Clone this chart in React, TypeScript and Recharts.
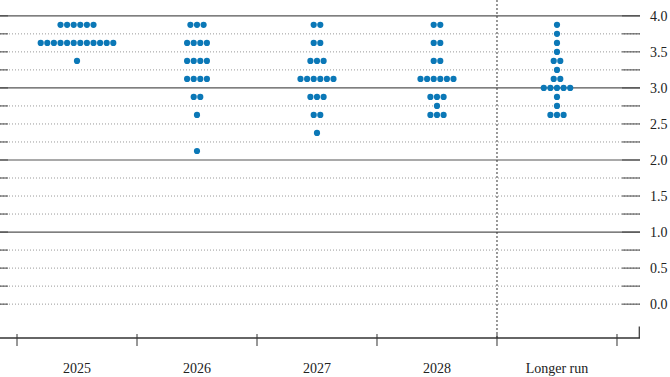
import { ScatterChart, Scatter, XAxis, YAxis, ReferenceLine } from 'recharts'

// Policy rate levels (midpoints) and number of participants at each level
const LEVELS = [3.875, 3.75, 3.625, 3.5, 3.375, 3.25, 3.125, 3.0, 2.875, 2.75, 2.625, 2.5, 2.375, 2.25, 2.125]

const CATEGORIES = ['2025', '2026', '2027', '2028', 'Longer run']

const COUNTS_2025 = [6, 0, 12, 0, 1, 0, 0, 0, 0, 0, 0, 0, 0, 0, 0]
const COUNTS_2026 = [3, 0, 4, 0, 4, 0, 4, 0, 2, 0, 1, 0, 0, 0, 1]
const COUNTS_2027 = [2, 0, 2, 0, 3, 0, 6, 0, 3, 0, 2, 0, 1, 0, 0]
const COUNTS_2028 = [2, 0, 2, 0, 2, 0, 6, 0, 3, 1, 3, 0, 0, 0, 0]
const COUNTS_LONGER = [1, 1, 1, 1, 2, 1, 2, 5, 1, 1, 3, 0, 0, 0, 0]

const ALL_COUNTS = [COUNTS_2025, COUNTS_2026, COUNTS_2027, COUNTS_2028, COUNTS_LONGER]

// gridlines every quarter point, labels every half point
const Y_TICKS = [0, 0.25, 0.5, 0.75, 1, 1.25, 1.5, 1.75, 2, 2.25, 2.5, 2.75, 3, 3.25, 3.5, 3.75, 4]

const X_MIN = -0.6417
const X_MAX = 4.6917
const Y_MIN = -0.47
const Y_MAX = 4.22
const DOT_STEP = 0.055 // horizontal spacing between dots on one row, in category units
const PLOT_W = 640
const DOT_COLOR = '#0b78b7'
const FONT = '"Liberation Serif", "DejaVu Serif", serif'

const dots = ALL_COUNTS.flatMap((counts, ci) =>
  counts.flatMap((n, li) =>
    Array.from({ length: n }, (_, k) => ({
      x: ci + (k - (n - 1) / 2) * DOT_STEP,
      y: LEVELS[li],
    })),
  ),
)

const X_TICKS = [-0.5, 0, 0.5, 1, 1.5, 2, 2.5, 3, 3.5, 4, 4.5]

function XTick(props: any) {
  const { x, y, payload } = props
  const v = payload.value
  if (Number.isInteger(v)) {
    return (
      <text x={x} y={y + 27} textAnchor="middle" style={{ fontFamily: FONT, fontSize: 14 }} fill="#222">
        {CATEGORIES[v]}
      </text>
    )
  }
  return <line x1={x} x2={x} y1={y - 12} y2={y} stroke="#333" strokeWidth={1} />
}

function YTick(props: any) {
  const { x, y, payload } = props
  const v = payload.value
  const labelled = Math.abs(v * 2 - Math.round(v * 2)) < 1e-6
  return (
    <g>
      <line x1={x - 18} x2={x} y1={y} y2={y} stroke="#444" strokeWidth={1} />
      <line x1={x - PLOT_W} x2={x - PLOT_W + 8} y1={y} y2={y} stroke="#444" strokeWidth={1} />
      {labelled && (
        <text x={x + 10} y={y} dy="0.35em" style={{ fontFamily: FONT, fontSize: 14 }} fill="#222">
          {v.toFixed(1)}
        </text>
      )}
    </g>
  )
}

const Dot = (props: any) => <circle cx={props.cx} cy={props.cy} r={3.1} fill={DOT_COLOR} />

export default function App() {
  return (
    <div style={{ position: 'absolute', left: 0, top: 0, background: '#fff' }}>
      <ScatterChart width={670} height={377} margin={{ top: 0, right: 0, bottom: 0, left: 0 }}>
        <XAxis
          type="number"
          dataKey="x"
          domain={[X_MIN, X_MAX]}
          ticks={X_TICKS}
          interval={0}
          allowDataOverflow
          height={39}
          tickLine={false}
          axisLine={{ stroke: '#333', strokeWidth: 1.4 }}
          tick={<XTick />}
        />
        <YAxis
          type="number"
          dataKey="y"
          orientation="right"
          domain={[Y_MIN, Y_MAX]}
          ticks={Y_TICKS}
          interval={0}
          allowDataOverflow
          width={30}
          tickSize={0}
          tickMargin={0}
          axisLine={false}
          tickLine={false}
          tick={<YTick />}
        />
        {Y_TICKS.map((v) =>
          Number.isInteger(v) && v > 0 ? (
            <ReferenceLine key={v} y={v} stroke="#555" strokeWidth={1.2} />
          ) : (
            <ReferenceLine key={v} y={v} stroke="#999" strokeWidth={1} strokeDasharray="1 2" />
          ),
        )}
        <ReferenceLine x={3.5} stroke="#333" strokeDasharray="2 2" strokeWidth={1} />
        <ReferenceLine
          segment={[{ x: X_MAX - 0.006, y: Y_MIN }, { x: X_MAX - 0.006, y: -0.31 }]}
          stroke="#333"
          strokeWidth={1.2}
          ifOverflow="visible"
        />
        <Scatter data={dots} fill={DOT_COLOR} isAnimationActive={false} shape={<Dot />} />
      </ScatterChart>
    </div>
  )
}
